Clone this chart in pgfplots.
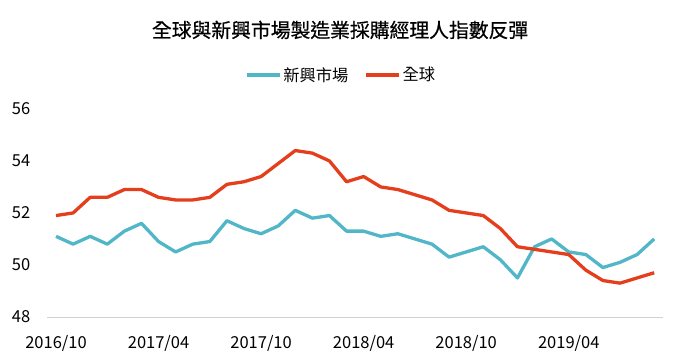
\documentclass[border=0pt]{standalone}
\usepackage{fontspec}
\setmainfont{Noto Sans CJK TC}
\newfontfamily\titlefont[FakeBold=0.6]{Noto Sans CJK TC}
\usepackage{pgfplots}
\pgfplotsset{compat=1.18}
\definecolor{teal1}{RGB}{80,182,200}
\definecolor{red1}{RGB}{228,62,28}
\begin{document}
\begin{tikzpicture}
\begin{axis}[
  x=17.09bp, y=26bp,
  xmin=-0.5, xmax=35.5, ymin=48, ymax=56,
  clip=false,
  axis y line*=left,
  y axis line style={draw=none},
  axis x line*=bottom,
  x axis line style={draw=black!18, line width=0.8pt},
  major tick length=0pt,
  xtick={0,6,12,18,24,30},
  xticklabels={2016/10,2017/04,2017/10,2018/04,2018/10,2019/04},
  ytick={48,50,52,54,56},
  /pgf/number format/assume math mode=true,
  xticklabel style={anchor=north, inner sep=0pt, yshift=-18bp, font=\fontsize{16.5bp}{18bp}\selectfont},
  yticklabel style={anchor=east, inner sep=0pt, xshift=-17bp, font=\fontsize{16.5bp}{18bp}\selectfont},
  legend columns=2,
  legend style={at={(axis cs:16.68,57.31)}, anchor=center, draw=none, fill=none,
    font=\fontsize{16.25bp}{18bp}\selectfont,
    /tikz/every even column/.append style={column sep=14bp}},
  legend image code/.code={\draw[#1, line width=3.3bp] (0bp,0bp) -- (33bp,0bp);},
]
\path (axis cs:-3.277,46.27) rectangle (axis cs:36.51,60.19);
\addplot[teal1, line width=3.3bp, line join=round] coordinates {
(0,51.1)(1,50.8)(2,51.1)(3,50.8)(4,51.3)(5,51.6)(6,50.9)(7,50.5)(8,50.8)(9,50.9)
(10,51.7)(11,51.4)(12,51.2)(13,51.5)(14,52.1)(15,51.8)(16,51.9)(17,51.3)(18,51.3)(19,51.1)
(20,51.2)(21,51.0)(22,50.8)(23,50.3)(24,50.5)(25,50.7)(26,50.2)(27,49.5)(28,50.7)(29,51.0)
(30,50.5)(31,50.4)(32,49.9)(33,50.1)(34,50.4)(35,51.0)};
\addlegendentry{新興市場}
\addplot[red1, line width=3.3bp, line join=round] coordinates {
(0,51.9)(1,52.0)(2,52.6)(3,52.6)(4,52.9)(5,52.9)(6,52.6)(7,52.5)(8,52.5)(9,52.6)
(10,53.1)(11,53.2)(12,53.4)(13,53.9)(14,54.4)(15,54.3)(16,54.0)(17,53.2)(18,53.4)(19,53.0)
(20,52.9)(21,52.7)(22,52.5)(23,52.1)(24,52.0)(25,51.9)(26,51.4)(27,50.7)(28,50.6)(29,50.5)
(30,50.4)(31,49.8)(32,49.4)(33,49.3)(34,49.5)(35,49.7)};
\addlegendentry{全球}
\node[font=\titlefont\fontsize{19.8bp}{22bp}\selectfont, inner sep=0pt] at (axis cs:16.62,59.04) {全球與新興市場製造業採購經理人指數反彈};
\end{axis}
\end{tikzpicture}
\end{document}
